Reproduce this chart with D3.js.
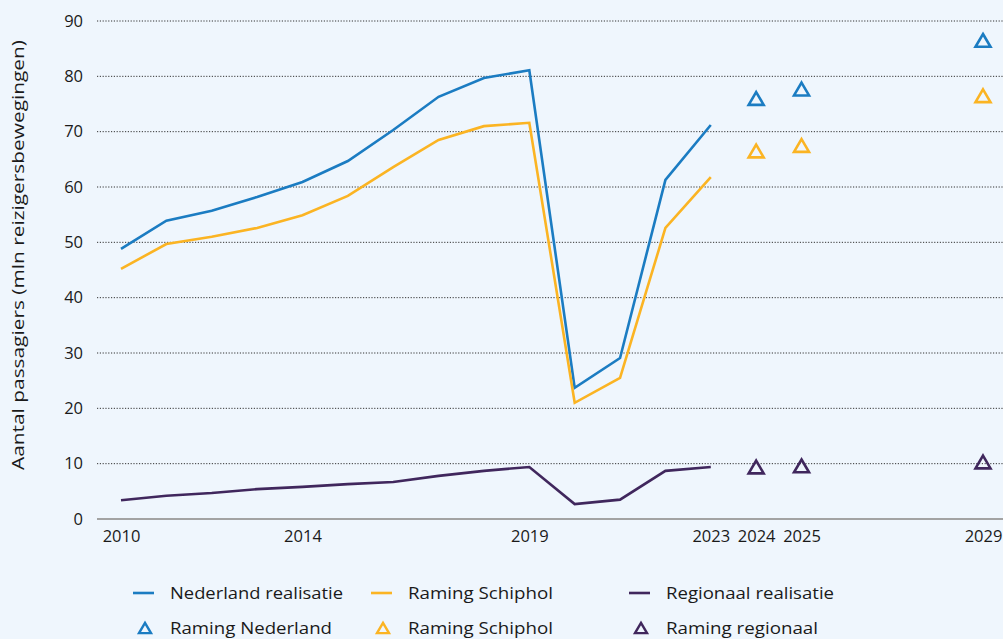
<!DOCTYPE html>
<html><head><meta charset="utf-8">
<script src="https://cdn.jsdelivr.net/npm/d3@7"></script>
<style>
html,body{margin:0;padding:0;background:#eff6fd;}
svg{display:block;font-family:"Open Sans","Noto Sans",sans-serif;}
</style></head>
<body><svg id="c" width="1003" height="639"></svg>
<script>
const years = [2010,2011,2012,2013,2014,2015,2016,2017,2018,2019,2020,2021,2022,2023];
const nederland = [48.8,53.9,55.7,58.2,60.9,64.7,70.3,76.3,79.7,81.1,23.7,29.1,61.3,71.2];
const schiphol = [45.2,49.7,51.0,52.6,54.9,58.4,63.6,68.5,71.0,71.6,21.0,25.5,52.6,61.8];
const regionaal = [3.4,4.2,4.7,5.4,5.8,6.3,6.7,7.8,8.7,9.4,2.7,3.5,8.7,9.4];
const forecastYears = [2024,2025,2029];
const ramingNederland = [76.0,77.7,86.5];
const ramingSchiphol = [66.5,67.5,76.5];
const ramingRegionaal = [9.4,9.6,10.3];
const xTicks = [2010,2014,2019,2023,2024,2025,2029];
const yTicks = [0,10,20,30,40,50,60,70,80,90];
const colors = {ned:"#1b7cc2", sch:"#fbb423", reg:"#40275d"};

const FONT = "'Open Sans','Noto Sans',sans-serif";
const svg = d3.select("#c");
const x = d3.scaleLinear().domain([2010,2029]).range([121,983]);
const y = d3.scaleLinear().domain([0,90]).range([519,21]);
const left = 97, right = 1003;

// grid
svg.append("g").selectAll("line").data(yTicks.filter(d=>d>0)).join("line")
  .attr("x1",left).attr("x2",right).attr("y1",d=>y(d)).attr("y2",d=>y(d))
  .attr("stroke","#333").attr("stroke-width",1).attr("stroke-dasharray","1.2,1.6");
svg.append("line").attr("x1",left).attr("x2",right).attr("y1",y(0)).attr("y2",y(0))
  .attr("stroke","#a3a3a3").attr("stroke-width",2);

// y axis labels
const yAxis = d3.axisLeft(y).tickValues(yTicks).tickSize(0).tickPadding(0);
const gy = svg.append("g").attr("transform","translate(83,0)").call(yAxis);
gy.select(".domain").remove();
gy.selectAll("text").attr("font-size",16.5).attr("fill","#1a1a1a").attr("font-family",FONT);

// x axis labels
const xAxis = d3.axisBottom(x).tickValues(xTicks).tickFormat(d3.format("d")).tickSize(0).tickPadding(0);
const gx = svg.append("g").attr("transform","translate(0,530)").call(xAxis);
gx.select(".domain").remove();
gx.selectAll("text").attr("font-size",16.5).attr("fill","#1a1a1a").attr("font-family",FONT);

// y title
svg.append("text").attr("transform","translate(24,255) rotate(-90)")
  .attr("text-anchor","middle").attr("font-size",17).attr("fill","#1a1a1a")
  .attr("font-family",FONT).attr("textLength",430).attr("lengthAdjust","spacingAndGlyphs")
  .text("Aantal passagiers (mln reizigersbewegingen)");

// lines
const line = d3.line().x((d,i)=>x(years[i])).y(d=>y(d));
[[nederland,colors.ned],[schiphol,colors.sch],[regionaal,colors.reg]].forEach(([data,c])=>{
  svg.append("path").datum(data).attr("d",line).attr("fill","none")
    .attr("stroke",c).attr("stroke-width",2.6).attr("stroke-linejoin","miter");
});

// triangles
function tri(cx,cy,s){
  const h = s*0.85;
  return `M${cx},${cy-h/2}L${cx+s/2},${cy+h/2}L${cx-s/2},${cy+h/2}Z`;
}
[[ramingNederland,colors.ned],[ramingSchiphol,colors.sch],[ramingRegionaal,colors.reg]].forEach(([data,c])=>{
  svg.append("g").selectAll("path").data(data).join("path")
    .attr("d",(d,i)=>tri(x(forecastYears[i]),y(d),15))
    .attr("fill","none").attr("stroke",c).attr("stroke-width",2.6).attr("stroke-linejoin","miter");
});

// legend
const legend = [
  {t:"line",c:colors.ned,label:"Nederland realisatie",x:133,y:593,w:173},
  {t:"line",c:colors.sch,label:"Raming Schiphol",x:371,y:593,w:145},
  {t:"line",c:colors.reg,label:"Regionaal realisatie",x:629,y:593,w:168},
  {t:"tri",c:colors.ned,label:"Raming Nederland",x:133,y:628,w:162},
  {t:"tri",c:colors.sch,label:"Raming Schiphol",x:371,y:628,w:145},
  {t:"tri",c:colors.reg,label:"Raming regionaal",x:629,y:628,w:152}
];
const lg = svg.append("g");
legend.forEach(d=>{
  if(d.t==="line"){
    lg.append("line").attr("x1",d.x).attr("x2",d.x+21).attr("y1",d.y).attr("y2",d.y)
      .attr("stroke",d.c).attr("stroke-width",2.6);
  } else {
    lg.append("path").attr("d",tri(d.x+12,d.y,12)).attr("fill","none")
      .attr("stroke",d.c).attr("stroke-width",2.4);
  }
  lg.append("text").attr("x",d.x+37).attr("y",d.y).attr("dy","0.35em")
    .attr("font-size",17).attr("fill","#1a1a1a").attr("font-family",FONT)
    .attr("textLength",d.w).attr("lengthAdjust","spacingAndGlyphs").text(d.label);
});
</script></body></html>
